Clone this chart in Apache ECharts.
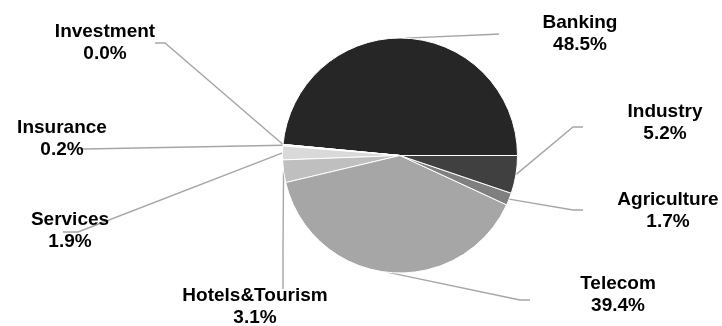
<!DOCTYPE html>
<html>
<head>
<meta charset="utf-8">
<script src="https://cdn.jsdelivr.net/npm/echarts@6/dist/echarts.min.js"></script>
<style>
  html, body { margin: 0; padding: 0; background: #fff; }
  #chart { width: 722px; height: 326px; }
</style>
</head>
<body>
<div id="chart"></div>
<script>
// sectors, counter-clockwise from 3 o'clock
var sectors = ["Banking", "Investment", "Insurance", "Services", "Hotels&Tourism", "Telecom", "Agriculture", "Industry"];
var shares = [48.5, 0.0, 0.2, 1.9, 3.1, 39.4, 1.7, 5.2];

var sliceColors = ["#262626", "#ffffff", "#f2f2f2", "#d9d9d9", "#bfbfbf", "#a6a6a6", "#7f7f7f", "#404040"];

// label placement: [centerX, centerY, elbowX, elbowY, endX, endY]
var labelSpots = [
  [580, 33.5, 490, 34.5, 499, 34],
  [105, 43, 165, 43, 155, 43],
  [62, 139, 85, 149, 80, 149],
  [70, 231, 78, 232, 63, 232],
  [255, 307, 283, 250, 283, 289],
  [618, 295, 520, 300, 530, 300],
  [668, 211, 573, 210, 583, 210],
  [665, 122.5, 573, 127, 583, 127]
];

var chart = echarts.init(document.getElementById("chart"));

var pieData = sectors.map(function (name, i) {
  return {
    name: name,
    value: shares[i],
    itemStyle: { color: sliceColors[i] }
  };
});

chart.setOption({
  animation: false,
  backgroundColor: "#fff",
  series: [
    {
      type: "pie",
      center: [400, 155.5],
      radius: 117.5,
      startAngle: 0,
      clockwise: false,
      avoidLabelOverlap: false,
      minShowLabelAngle: 0,
      data: pieData,
      itemStyle: {
        borderColor: "#fff",
        borderWidth: 1
      },
      label: {
        show: true,
        position: "outside",
        formatter: function (p) {
          return p.name + "\n" + p.value.toFixed(1) + "%";
        },
        fontFamily: "Liberation Sans, Arial, sans-serif",
        fontWeight: "bold",
        fontSize: 19,
        lineHeight: 22,
        color: "#000",
        align: "center"
      },
      labelLine: {
        show: true,
        length: 20,
        length2: 10,
        lineStyle: { color: "#a6a6a6", width: 1.4 }
      },
      labelLayout: function (params) {
        var s = labelSpots[params.dataIndex];
        var pts = params.labelLinePoints;
        var start = pts && pts.length ? pts[0] : [s[2], s[3]];
        return {
          x: s[0],
          y: s[1],
          align: "center",
          verticalAlign: "middle",
          labelLinePoints: [start, [s[2], s[3]], [s[4], s[5]]]
        };
      }
    }
  ]
});
</script>
</body>
</html>
